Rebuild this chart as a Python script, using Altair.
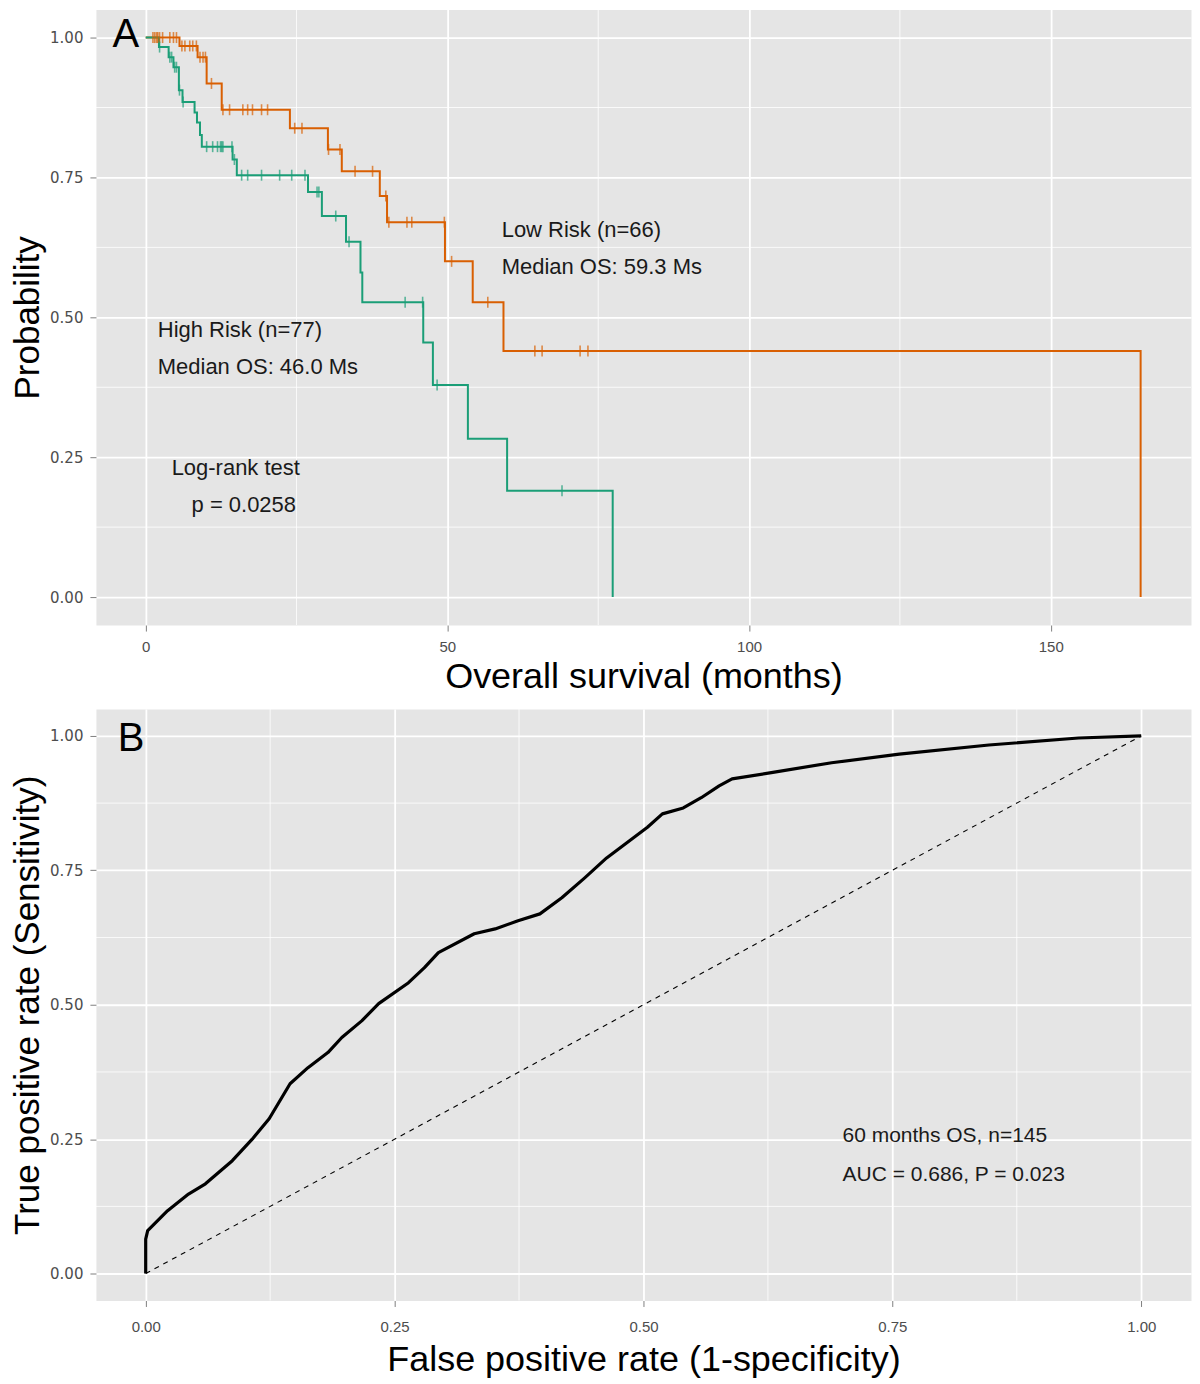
import altair as alt
import pandas as pd

ORANGE = "#D95F02"
GREEN = "#1B9E77"
TXT = "#1A1A1A"

# ---------------- Panel A: Kaplan-Meier ----------------
low_time = [0, 5.6, 8.6, 10.1, 12.6, 23.9, 30.2, 32.5, 38.8, 40.0, 49.6, 54.2, 59.3, 164.9]
low_surv = [1.0, 0.985, 0.965, 0.918, 0.871, 0.838, 0.800, 0.761, 0.717, 0.670, 0.600, 0.527, 0.440, 0.0]
low_cens = [1.2, 1.5, 1.8, 2.0, 2.3, 2.8, 4.0, 4.6, 5.1, 6.0, 6.5, 7.3, 7.8, 8.4, 9.0, 9.5, 9.9,
            10.9, 12.8, 13.9, 16.1, 16.9, 17.7, 19.2, 20.2, 24.7, 25.9, 30.3, 32.2, 34.7, 37.6,
            39.8, 40.3, 43.3, 44.1, 49.5, 50.7, 56.7, 64.5, 65.7, 72.0, 73.3]

high_time = [0, 2.2, 3.8, 4.6, 5.5, 6.1, 8.1, 8.5, 9.0, 9.3, 14.4, 15.1, 26.9, 29.2, 33.2,
             35.6, 35.9, 46.0, 47.6, 53.4, 59.9, 77.4]
high_surv = [1.0, 0.983, 0.965, 0.947, 0.906, 0.885, 0.866, 0.848, 0.826, 0.805, 0.782, 0.754,
             0.724, 0.681, 0.635, 0.580, 0.527, 0.455, 0.379, 0.283, 0.190, 0.0]
high_cens = [2.3, 4.0, 4.3, 4.8, 5.1, 5.6, 6.2, 10.1, 11.1, 11.9, 12.4, 12.6, 12.8, 14.3, 14.7,
             15.9, 16.9, 19.2, 22.2, 24.2, 26.4, 28.4, 28.7, 31.5, 33.7, 43.0, 45.9, 48.3, 69.0]

groups = ["Low Risk", "High Risk"]
colors = [ORANGE, GREEN]

a_xticks = [0, 50, 100, 150]
a_xminor = [25, 75, 125]
yticks = [0, 0.25, 0.5, 0.75, 1.0]
yminor = [0.125, 0.375, 0.625, 0.875]

a_text = ["Low Risk (n=66)", "Median OS: 59.3 Ms", "High Risk (n=77)", "Median OS: 46.0 Ms",
          "Log-rank test", "p = 0.0258"]
a_text_x = [59.0, 59.0, 2.0, 2.0, 4.3, 7.6]
a_text_y = [0.656, 0.590, 0.478, 0.412, 0.230, 0.164]

# ---------------- Panel B: ROC ----------------
roc_fpr = [0.000, 0.000, 0.002, 0.022, 0.043, 0.060, 0.087, 0.107, 0.124, 0.145, 0.163, 0.183,
           0.197, 0.217, 0.234, 0.264, 0.280, 0.294, 0.330, 0.351, 0.374, 0.396, 0.418, 0.441,
           0.463, 0.486, 0.504, 0.519, 0.540, 0.558, 0.576, 0.589, 0.630, 0.689, 0.757, 0.847,
           0.937, 1.000]
roc_tpr = [0.000, 0.064, 0.080, 0.117, 0.148, 0.167, 0.210, 0.250, 0.288, 0.353, 0.383, 0.411,
           0.439, 0.470, 0.502, 0.541, 0.569, 0.597, 0.632, 0.641, 0.656, 0.669, 0.699, 0.736,
           0.773, 0.805, 0.830, 0.855, 0.866, 0.885, 0.907, 0.920, 0.932, 0.950, 0.966, 0.983,
           0.996, 1.000]
b_ticks = [0, 0.25, 0.5, 0.75, 1.0]
b_minor = [0.125, 0.375, 0.625, 0.875]
b_text = ["60 months OS, n=145", "AUC = 0.686, P = 0.023"]
b_text_x = [0.700, 0.700]
b_text_y = [0.255, 0.184]


def step_value(times, survs, t):
    v = survs[0]
    for tt, s in zip(times, survs):
        if tt <= t:
            v = s
        else:
            break
    return v


km_rows = []
cens_rows = []
for g, tms, svs, cns in [("Low Risk", low_time, low_surv, low_cens),
                         ("High Risk", high_time, high_surv, high_cens)]:
    for i, (t, s) in enumerate(zip(tms, svs)):
        km_rows.append({"group": g, "x": t, "y": s, "i": i})
    for c in cns:
        cens_rows.append({"group": g, "x": c, "y": step_value(tms, svs, c)})
km_df = pd.DataFrame(km_rows)
cens_df = pd.DataFrame(cens_rows)

W = 1096
HA = 616
HB = 592


def xa():
    return alt.X("x:Q", scale=alt.Scale(domain=[-8.25, 173.25], nice=False, zero=False),
                 axis=alt.Axis(values=a_xticks, title="Overall survival (months)", format="d",
                               labelPadding=8, titlePadding=5))


def ya():
    return alt.Y("y:Q", scale=alt.Scale(domain=[-0.05, 1.05], nice=False, zero=False),
                 axis=alt.Axis(values=yticks, title="Probability", format=".2f"))


color_enc = alt.Color("group:N", scale=alt.Scale(domain=groups, range=colors), legend=None)

a_minor_x = alt.Chart(pd.DataFrame({"x": a_xminor})).mark_rule(
    color="white", strokeWidth=0.8).encode(x=xa())
a_minor_y = alt.Chart(pd.DataFrame({"y": yminor})).mark_rule(
    color="white", strokeWidth=0.8).encode(y=ya())

km_lines = alt.Chart(km_df).mark_line(interpolate="step-after", strokeWidth=2).encode(
    x=xa(), y=ya(), color=color_enc, detail="group:N", order="i:Q")
km_cens = alt.Chart(cens_df).mark_tick(orient="vertical", size=11, thickness=1.6).encode(
    x=xa(), y=ya(), color=color_enc)

a_txt = alt.Chart(pd.DataFrame({"x": a_text_x, "y": a_text_y, "t": a_text})).mark_text(
    align="left", baseline="middle", font="Liberation Sans", fontSize=22, color=TXT).encode(
    x=xa(), y=ya(), text="t:N")
a_lab = alt.Chart(pd.DataFrame({"x": [-5.5], "y": [1.005], "t": ["A"]})).mark_text(
    align="left", baseline="middle", font="Liberation Sans", fontSize=40, color="black").encode(
    x=xa(), y=ya(), text="t:N")

panel_a = alt.layer(a_minor_x, a_minor_y, km_lines, km_cens, a_txt, a_lab).properties(
    width=W, height=HA)


def xb():
    return alt.X("x:Q", scale=alt.Scale(domain=[-0.05, 1.05], nice=False, zero=False),
                 axis=alt.Axis(values=b_ticks, title="False positive rate (1-specificity)", format=".2f",
                               labelPadding=13, titlePadding=8))


def yb():
    return alt.Y("y:Q", scale=alt.Scale(domain=[-0.05, 1.05], nice=False, zero=False),
                 axis=alt.Axis(values=b_ticks, title="True positive rate (Sensitivity)", format=".2f"))


b_minor_x = alt.Chart(pd.DataFrame({"x": b_minor})).mark_rule(
    color="white", strokeWidth=0.8).encode(x=xb())
b_minor_y = alt.Chart(pd.DataFrame({"y": b_minor})).mark_rule(
    color="white", strokeWidth=0.8).encode(y=yb())
diag = alt.Chart(pd.DataFrame({"x": [0.0, 1.0], "y": [0.0, 1.0]})).mark_line(
    color="black", strokeWidth=1.1, strokeDash=[5, 5]).encode(x=xb(), y=yb())
roc_df = pd.DataFrame({"x": roc_fpr, "y": roc_tpr, "i": list(range(len(roc_fpr)))})
roc = alt.Chart(roc_df).mark_line(color="black", strokeWidth=3.2, strokeJoin="round").encode(
    x=xb(), y=yb(), order="i:Q")
b_txt = alt.Chart(pd.DataFrame({"x": b_text_x, "y": b_text_y, "t": b_text})).mark_text(
    align="left", baseline="middle", font="Liberation Sans", fontSize=21, color=TXT).encode(
    x=xb(), y=yb(), text="t:N")
b_lab = alt.Chart(pd.DataFrame({"x": [-0.028], "y": [0.994], "t": ["B"]})).mark_text(
    align="left", baseline="middle", font="Liberation Sans", fontSize=40, color="black").encode(
    x=xb(), y=yb(), text="t:N")

panel_b = alt.layer(b_minor_x, b_minor_y, diag, roc, b_txt, b_lab).properties(width=W, height=HB)

chart = alt.vconcat(panel_a, panel_b, spacing=84, bounds="flush").properties(
    padding={"left": 2, "top": 0, "right": 0, "bottom": 0}, background="white"
).configure_view(
    fill="#E5E5E5", stroke="transparent"
).configure_axis(
    grid=True, gridColor="white", gridWidth=1.8, domain=False,
    tickColor="#7F7F7F", tickSize=6, tickWidth=1,
    labelColor="#4D4D4D", labelFontSize=15, labelFont="Liberation Sans", labelPadding=7,
    titleFont="Liberation Sans", titleFontSize=36, titleFontWeight="normal", titleColor="black"
).configure_axisY(
    labelFont="DejaVu Sans", labelFontSize=15, titlePadding=4, titleFontSize=35
)

chart.save("out.html", embed_options={"renderer": "svg", "actions": False})
